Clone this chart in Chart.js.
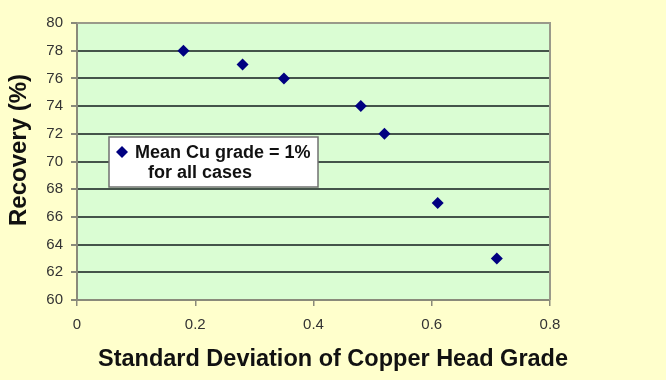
<!DOCTYPE html>
<html lang="en">
<head>
    <meta charset="UTF-8">
    <title>Recovery vs Standard Deviation of Copper Head Grade</title>
    <script src="https://cdn.jsdelivr.net/npm/chart.js"></script>
    <style>
        html, body { margin: 0; padding: 0; background: #ffffcc; overflow: hidden; }
        .chart-container { width: 666px; height: 380px; }
    </style>
</head>
<body>
    <div class="chart-container">
        <canvas id="recoveryChart" width="666" height="380"></canvas>
    </div>

    <script>
        // data
        var stdDev = [0.18, 0.28, 0.35, 0.48, 0.52, 0.61, 0.71];
        var recovery = [78, 77, 76, 74, 72, 67, 63];
        var seriesLabel = ['Mean Cu grade = 1%', 'for all cases'];
        var xTitle = 'Standard Deviation of Copper Head Grade';
        var yTitle = 'Recovery (%)';

        var points = stdDev.map(function (x, i) { return { x: x, y: recovery[i] }; });

        // backgrounds, plot frame, legend box and axis titles
        var decor = {
            id: 'decor',
            beforeDraw: function (chart) {
                var c = chart.ctx, a = chart.chartArea;
                c.save();
                c.fillStyle = '#ffffcc';
                c.fillRect(0, 0, chart.width, chart.height);
                c.fillStyle = '#dafdd3';
                c.fillRect(a.left, a.top, a.right - a.left, a.bottom - a.top);
                c.restore();
            },
            afterDraw: function (chart) {
                var c = chart.ctx, a = chart.chartArea;
                c.save();
                // right + top frame
                c.strokeStyle = '#9a9a8a';
                c.lineWidth = 2;
                c.beginPath();
                c.moveTo(a.left, a.top);
                c.lineTo(a.right, a.top);
                c.lineTo(a.right, a.bottom);
                c.stroke();

                // legend box
                var bx = 109, by = 137, bw = 209, bh = 50;
                c.fillStyle = '#ffffff';
                c.fillRect(bx, by, bw, bh);
                c.strokeStyle = '#707070';
                c.lineWidth = 1.5;
                c.strokeRect(bx, by, bw, bh);
                c.fillStyle = '#000080';
                c.beginPath();
                c.moveTo(122, 146); c.lineTo(128, 152); c.lineTo(122, 158); c.lineTo(116, 152);
                c.closePath();
                c.fill();
                c.fillStyle = '#111111';
                c.font = 'bold 18px "Liberation Sans", Arial, sans-serif';
                c.textBaseline = 'alphabetic';
                c.textAlign = 'left';
                c.fillText(seriesLabel[0], 135, 158);
                c.fillText(seriesLabel[1], 148, 178);

                // x title
                c.font = 'bold 23.5px "Liberation Sans", Arial, sans-serif';
                c.textAlign = 'center';
                c.textBaseline = 'middle';
                c.fillText(xTitle, 333, 360);

                // y title
                c.translate(19, 150);
                c.rotate(-Math.PI / 2);
                c.font = 'bold 24px "Liberation Sans", Arial, sans-serif';
                c.fillText(yTitle, 0, 0);
                c.restore();
            }
        };

        var ctx = document.getElementById('recoveryChart').getContext('2d');
        var recoveryChart = new Chart(ctx, {
            type: 'scatter',
            data: {
                datasets: [{
                    label: seriesLabel.join(' '),
                    data: points,
                    pointStyle: 'rectRot',
                    pointRadius: 6,
                    pointHoverRadius: 6,
                    backgroundColor: '#000080',
                    borderColor: '#000080',
                    borderWidth: 0
                }]
            },
            options: {
                responsive: false,
                animation: false,
                layout: { padding: { left: 0, right: 116, top: 23, bottom: 0 } },
                plugins: {
                    legend: { display: false },
                    tooltip: { enabled: false }
                },
                scales: {
                    x: {
                        type: 'linear',
                        min: 0,
                        max: 0.8,
                        afterFit: function (s) { s.height = 80; },
                        ticks: {
                            stepSize: 0.2,
                            padding: 10,
                            maxRotation: 0,
                            color: '#333333',
                            font: { family: '"Liberation Sans", Arial, sans-serif', size: 15 },
                            callback: function (v) { return Math.round(v * 10) / 10; }
                        },
                        grid: { drawOnChartArea: false, tickLength: 6, color: '#8a8a7a', lineWidth: 1.5 },
                        border: { color: '#8a8a7a', width: 2 }
                    },
                    y: {
                        min: 60,
                        max: 80,
                        afterFit: function (s) { s.width = 77; },
                        ticks: {
                            stepSize: 2,
                            padding: 8,
                            color: '#333333',
                            font: { family: '"Liberation Sans", Arial, sans-serif', size: 15 }
                        },
                        grid: {
                            tickLength: 6,
                            lineWidth: 2,
                            color: function (c) {
                                return (c.tick && (c.tick.value === 60 || c.tick.value === 80)) ? '#9a9a8a' : '#44544a';
                            },
                            tickColor: '#8a8a7a'
                        },
                        border: { color: '#8a8a7a', width: 2 }
                    }
                }
            },
            plugins: [decor]
        });
    </script>
</body>
</html>
